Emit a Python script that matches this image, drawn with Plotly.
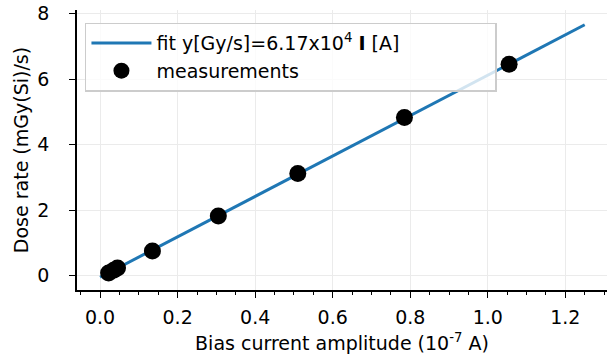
import plotly.graph_objects as go

# Data
meas_x = [0.022, 0.035, 0.045, 0.135, 0.305, 0.510, 0.785, 1.055]
meas_y = [0.08, 0.16, 0.23, 0.75, 1.82, 3.12, 4.83, 6.45]
fit_x = [0.0, 1.25]
fit_y = [-0.05, 7.66]
x_ticks = [0.0, 0.2, 0.4, 0.6, 0.8, 1.0, 1.2]
y_ticks = [0, 2, 4, 6, 8]

FONT = "DejaVu Sans"
FS = 19
PAD = "&nbsp;" * 15

fig = go.Figure()
fig.add_trace(go.Scatter(
    x=fit_x, y=fit_y, mode="lines",
    line=dict(color="#1f77b4", width=3),
    name="fit y[Gy/s]=6.17x10<sup>4</sup> <b>I</b> [A]" + PAD,
))
fig.add_trace(go.Scatter(
    x=meas_x, y=meas_y, mode="markers",
    marker=dict(color="black", size=17),
    name="measurements",
))

fig.update_layout(
    width=607, height=360,
    margin=dict(l=77, r=0, t=10, b=70),
    plot_bgcolor="white", paper_bgcolor="white",
    font=dict(family=FONT, size=FS, color="black"),
    legend=dict(
        x=0.015, y=0.955, xanchor="left", yanchor="top",
        bgcolor="rgba(255,255,255,0.8)", bordercolor="#cccccc", borderwidth=1.5,
        font=dict(family=FONT, size=FS),
        tracegroupgap=0,
        itemwidth=60,
    ),
    xaxis=dict(
        range=[-0.0595, 1.3075],
        tickvals=x_ticks, ticktext=[f"{v:.1f}" for v in x_ticks],
        ticks="outside", ticklen=6, tickwidth=1.2, tickcolor="black",
        ticklabelstandoff=3,
        minor=dict(dtick=0.05, tick0=0, ticks="outside", ticklen=3.5, tickcolor="black", showgrid=False),
        showline=True, linecolor="black", linewidth=1.5,
        showgrid=True, gridcolor="#ebebeb", gridwidth=1.2,
        zeroline=False,
        title=dict(text="Bias current amplitude (10<sup>-7</sup> A)", font=dict(size=FS), standoff=10),
        tickfont=dict(size=FS),
    ),
    yaxis=dict(
        range=[-0.44, 8.11],
        tickvals=y_ticks,
        ticks="outside", ticklen=6, tickwidth=1.2, tickcolor="black",
        ticklabelstandoff=16,
        showline=True, linecolor="black", linewidth=1.5,
        showgrid=True, gridcolor="#ebebeb", gridwidth=1.2,
        zeroline=False,
        title=dict(text="Dose rate (mGy(Si)/s)", font=dict(size=FS), standoff=4),
        tickfont=dict(size=FS),
    ),
)

fig.write_html("out.html")
